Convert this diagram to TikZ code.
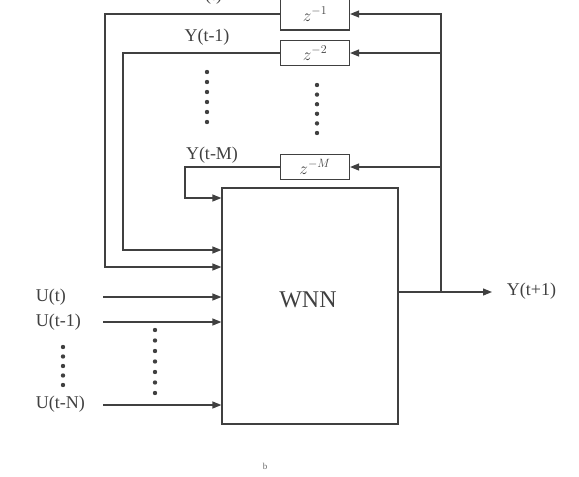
\documentclass[tikz,border=0pt]{standalone}
\usepackage{fontspec}
\setmainfont{Liberation Serif}
\usetikzlibrary{arrows.meta}

\begin{document}
\begin{tikzpicture}[x=1pt,y=-1pt,>={Triangle[length=9pt,width=7pt]},line width=1.2pt,
  color=black!75,font=\fontsize{18}{20}\selectfont,
  delay/.style={draw,minimum width=69pt,minimum height=25pt,inner sep=0pt,font=\fontsize{17}{19}\selectfont}]
 \useasboundingbox (0,0) rectangle (579,477);
 % network block
 \node[draw,minimum width=176pt,minimum height=236pt,inner sep=0pt] (wnn) at (310,306) {};
 \node[font=\fontsize{24}{26}\selectfont] (wnnlab) at (308,300) {WNN};
 % delay blocks
 \node[delay,minimum height=32pt] (d1) at (315,14) {$z^{-1}$};
 \node[delay] (d2) at (315,53) {$z^{-2}$};
 \node[delay] (dM) at (315,167) {$z^{-M}$};
 % output and feedback
 \coordinate (tap) at (441,292);
 \coordinate (yend) at (492,292);
 \node[anchor=west] (yout) at (503,291) {Y(t+1)};
 \draw[->] (wnn.east |- tap) -- (yend);
 \draw[->] (tap) |- (d1.east);
 \draw[->] (tap |- d2) -- (d2.east);
 \draw[->] (tap |- dM) -- (dM.east);
 % delayed outputs
 \coordinate (k1) at (105,267);
 \coordinate (k2) at (123,250);
 \coordinate (kM) at (185,198);
 \draw[->] (d1.west) -| (k1) -- (k1 -| wnn.west);
 \draw[->] (d2.west) -| (k2) -- (k2 -| wnn.west);
 \draw[->] (dM.west) -| (kM) -- (kM -| wnn.west);
 \node (yt) at (207,-4) {Y(t)};
 \node (yt1) at (207,37) {Y(t-1)};
 \node (ytM) at (212,155) {Y(t-M)};
 % inputs
 \node[anchor=west] (u0) at (32,297) {U(t)};
 \node[anchor=west] (u1) at (32,322) {U(t-1)};
 \node[anchor=west] (uN) at (32,404) {U(t-N)};
 \coordinate (s0) at (103,297);
 \coordinate (s1) at (103,322);
 \coordinate (sN) at (103,405);
 \draw[->] (s0) -- (s0 -| wnn.west);
 \draw[->] (s1) -- (s1 -| wnn.west);
 \draw[->] (sN) -- (sN -| wnn.west);
 % dots
 \foreach \y in {72,82,...,122} \fill (207,\y) circle[radius=2.2pt];
 \foreach \y in {85,94.6,...,134} \fill (317,\y) circle[radius=2.2pt];
 \foreach \y in {347,356.5,...,386} \fill (63,\y) circle[radius=2.2pt];
 \foreach \y in {330,340.5,...,394} \fill (155,\y) circle[radius=2.2pt];
 \node[font=\fontsize{9}{10}\selectfont,black!60] (mark) at (265,466) {b};
\end{tikzpicture}
\end{document}
